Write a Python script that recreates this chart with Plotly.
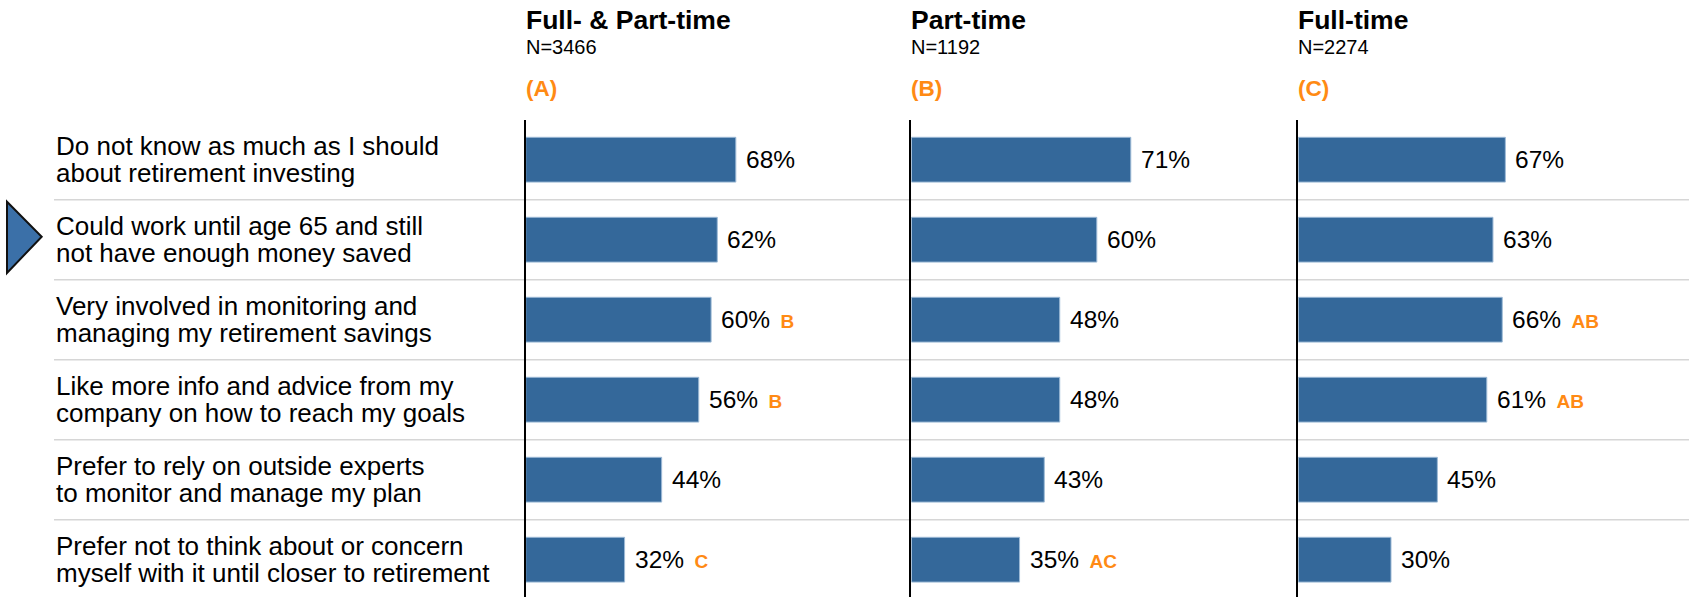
import plotly.graph_objects as go

# survey statements (rows, top to bottom)
categories = [
    "Do not know as much as I should<br>about retirement investing",
    "Could work until age 65 and still<br>not have enough money saved",
    "Very involved in monitoring and<br>managing my retirement savings",
    "Like more info and advice from my<br>company on how to reach my goals",
    "Prefer to rely on outside experts<br>to monitor and manage my plan",
    "Prefer not to think about or concern<br>myself with it until closer to retirement",
]

panel_titles = ["Full- & Part-time", "Part-time", "Full-time"]
panel_sizes = ["N=3466", "N=1192", "N=2274"]
panel_codes = ["(A)", "(B)", "(C)"]

full_and_part = [68, 62, 60, 56, 44, 32]
part_time = [71, 60, 48, 48, 43, 35]
full_time = [67, 63, 66, 61, 45, 30]

# significance letters shown next to the percentages
sig_full_and_part = ["", "", "B", "B", "", "C"]
sig_part_time = ["", "", "", "", "", "AC"]
sig_full_time = ["", "", "AB", "AB", "", ""]

panels = [
    (full_and_part, sig_full_and_part),
    (part_time, sig_part_time),
    (full_time, sig_full_time),
]

BAR = "#34689A"
ORANGE = "#FF8A14"
FONT = "Arial, Liberation Sans, sans-serif"

W, H = 1689, 597
TOP = 120
axis_px = [525.7, 911.4, 1298.3]
label_px = 54
panel_px = 380
px_per_pct = 3.09
row_px = 80
first_row_px = 159.7

plot_h = H - TOP
y_top = -(first_row_px - TOP) / row_px
y_bottom = y_top + plot_h / row_px

fig = go.Figure()
layout = {}
annotations = []
rows = list(range(len(categories)))

for k, (vals, sig) in enumerate(panels):
    s = "" if k == 0 else str(k + 1)
    fig.add_trace(go.Bar(
        x=vals, y=rows, orientation="h", width=0.56,
        marker=dict(color=BAR, line=dict(color="#9DBAD6", width=1)),
        xaxis="x" + s, yaxis="y" + s, hoverinfo="skip", showlegend=False,
    ))
    layout["xaxis" + s] = dict(
        domain=[axis_px[k] / W, (axis_px[k] + panel_px) / W],
        range=[0, panel_px / px_per_pct], visible=False, fixedrange=True,
    )
    layout["yaxis" + s] = dict(
        anchor="x" + s, domain=[0, 1], range=[y_bottom, y_top],
        showline=True, linecolor="black", linewidth=1.5,
        showticklabels=False, showgrid=False, zeroline=False, ticks="",
    )
    for i, (v, letter) in enumerate(zip(vals, sig)):
        txt = f"{v}%"
        if letter:
            txt += (f"<span style='font-size:19px;color:{ORANGE}'>"
                    f"<b>\u00a0\u00a0{letter}</b></span>")
        annotations.append(dict(
            x=v, y=i, xref="x" + s, yref="y" + s, text=txt, showarrow=False,
            xanchor="left", yanchor="middle", xshift=8,
            font=dict(family=FONT, size=24.5, color="black"),
        ))
    # column headers
    for text, ypx, size, color, bold in [
        (panel_titles[k], 19.7, 26.5, "black", True),
        (panel_sizes[k], 47.2, 20, "black", False),
        (panel_codes[k], 88.3, 22.5, ORANGE, True),
    ]:
        annotations.append(dict(
            x=0, xref="x" + s + " domain", y=(H - ypx) / plot_h, yref="paper",
            text=f"<b>{text}</b>" if bold else text, showarrow=False,
            xanchor="left", yanchor="middle", xshift=-2,
            font=dict(family=FONT, size=size, color=color),
        ))

# row labels, two lines each
for i, label in enumerate(categories):
    lines = label.split("<br>")
    for j, line in enumerate(lines):
        annotations.append(dict(
            x=label_px / W, xref="paper", y=i + (j - 0.5) * 0.342, yref="y",
            text=line, showarrow=False, xanchor="left", yanchor="middle",
            font=dict(family=FONT, size=26, color="black"),
        ))

shapes = []
for i in range(len(categories) - 1):
    shapes.append(dict(
        type="line", xref="paper", yref="y", x0=label_px / W, x1=1,
        y0=i + 0.5, y1=i + 0.5,
        line=dict(color="#D6D6D6", width=1.5), layer="below",
    ))

# pointer arrow next to the second statement
shapes.append(dict(
    type="path", xref="paper", yref="y",
    path=f"M {7 / W},0.525 L {41.7 / W},0.9625 L {7 / W},1.416 Z",
    fillcolor="#3B70A8", line=dict(color="#111111", width=2),
))

fig.update_layout(
    width=W, height=H,
    margin=dict(l=0, r=0, t=TOP, b=0),
    paper_bgcolor="white", plot_bgcolor="rgba(0,0,0,0)",
    annotations=annotations, shapes=shapes,
    font=dict(family=FONT),
    **layout,
)

# drop the default page margin so the figure sits at the window corner
fig.write_html(
    "out.html",
    config={"displayModeBar": False},
    post_script="document.body.style.margin='0';",
)
